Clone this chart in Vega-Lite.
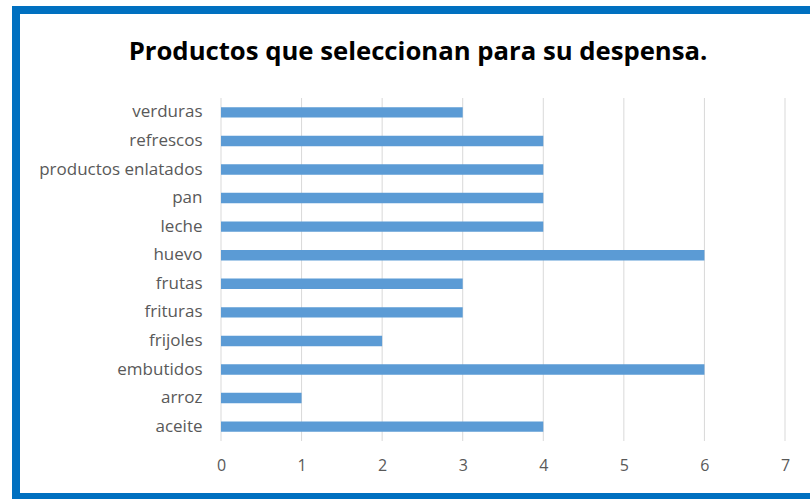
{
  "$schema": "https://vega.github.io/schema/vega-lite/v6.json",
  "autosize": "none",
  "padding": {"left": 16, "top": 10, "right": -10, "bottom": 2},
  "width": 804,
  "height": 487,
  "background": "white",
  "config": {
    "view": {"stroke": "#0070C0", "strokeWidth": 8},
    "font": "Open Sans"
  },
  "title": {
    "text": "Productos que seleccionan para su despensa.",
    "fontSize": 25.7,
    "fontWeight": "bold",
    "color": "#000000",
    "font": "Open Sans",
    "anchor": "middle",
    "baseline": "alphabetic",
    "offset": -76
  },
  "datasets": {
    "productos": [
      {"producto": "verduras", "n": 3},
      {"producto": "refrescos", "n": 4},
      {"producto": "productos enlatados", "n": 4},
      {"producto": "pan", "n": 4},
      {"producto": "leche", "n": 4},
      {"producto": "huevo", "n": 6},
      {"producto": "frutas", "n": 3},
      {"producto": "frituras", "n": 3},
      {"producto": "frijoles", "n": 2},
      {"producto": "embutidos", "n": 6},
      {"producto": "arroz", "n": 1},
      {"producto": "aceite", "n": 4}
    ],
    "grid": [
      {"n": 0}, {"n": 1}, {"n": 2}, {"n": 3}, {"n": 4}, {"n": 5}, {"n": 6}, {"n": 7}
    ]
  },
  "layer": [
    {
      "data": {"name": "grid"},
      "mark": {"type": "rule", "color": "#D9D9D9", "strokeWidth": 1},
      "encoding": {
        "x": {
          "field": "n",
          "type": "quantitative",
          "scale": {"domain": [0, 7], "range": [205, 769], "nice": false},
          "axis": {
            "title": null,
            "orient": "bottom",
            "offset": 0,
            "values": [0, 1, 2, 3, 4, 5, 6, 7],
            "format": "d",
            "labelFlush": false,
            "domain": false,
            "ticks": false,
            "grid": false,
            "labelPadding": -40,
            "labelFontSize": 16,
            "labelColor": "#595959",
            "labelFont": "Open Sans"
          }
        },
        "y": {"datum": 0, "type": "quantitative", "scale": {"domain": [0, 1], "range": [431, 88]}, "axis": null},
        "y2": {"datum": 1}
      }
    },
    {
      "data": {"name": "productos"},
      "mark": {"type": "bar", "color": "#5B9BD5"},
      "encoding": {
        "y": {
          "field": "producto",
          "type": "nominal",
          "sort": "descending",
          "scale": {"range": [88, 431], "paddingInner": 0.635, "paddingOuter": 0.32},
          "axis": {
            "title": null,
            "orient": "left",
            "offset": 0,
            "labelPadding": -186,
            "domain": false,
            "ticks": false,
            "grid": false,
            "labelFontSize": 17,
            "labelColor": "#595959",
            "labelFont": "Open Sans"
          }
        },
        "x": {"field": "n", "type": "quantitative"}
      }
    }
  ],
  "resolve": {"scale": {"y": "independent"}, "axis": {"y": "independent"}}
}
